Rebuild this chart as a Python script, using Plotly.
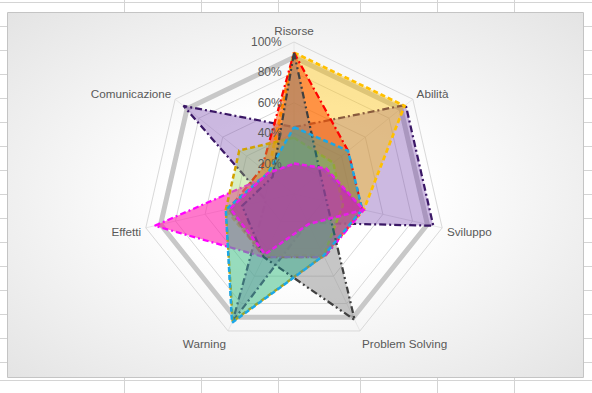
import base64
import plotly.graph_objects as go

# ---------------- data ----------------
categories = ["Risorse", "Abilità", "Sviluppo", "Problem Solving", "Warning", "Effetti", "Comunicazione"]
radial_tickvals = [0.2, 0.4, 0.6, 0.8, 1.0]
radial_ticktext = ["20%", "40%", "60%", "80%", "100%"]

ring = [0.90, 0.90, 0.90, 0.90, 0.90, 0.90, 0.90]
purple = [0.44, 0.94, 0.94, 0.21, 0.93, 0.19, 0.93]
gold = [0.93, 0.93, 0.47, 0.45, 0.45, 0.46, 0.22]
orange = [0.93, 0.455, 0.46, 0.46, 0.46, 0.44, 0.27]
pink = [0.20, 0.25, 0.47, 0.46, 0.46, 0.94, 0.20]
green = [0.37, 0.33, 0.33, 0.45, 0.93, 0.46, 0.46]
gray = [0.93, 0.22, 0.22, 0.92, 0.46, 0.35, 0.18]
teal = [0.44, 0.455, 0.46, 0.45, 0.94, 0.46, 0.22]
magenta = [0.20, 0.27, 0.47, 0.22, 0.44, 0.43, 0.22]

W, H = 592, 393


def px(x):
    return x / W


def py(y):
    return 1 - y / H


fig = go.Figure()


def add(vals, line_color, width, dash, fillcolor=None):
    fig.add_trace(go.Scatterpolar(
        r=vals + [vals[0]],
        theta=categories + [categories[0]],
        mode="lines",
        fill="toself" if fillcolor else None,
        fillcolor=fillcolor,
        line=dict(color=line_color, width=width, dash=dash),
        hoverinfo="skip",
        showlegend=False,
    ))


add(ring, "#C8C8C8", 5, "solid")
add(purple, "#3B1866", 2.25, "7px,3px,2px,3px", "rgba(120,70,175,0.38)")
add(gold, "#FFC000", 2.75, "5px,3px", "rgba(255,192,0,0.40)")
add(orange, "#FF0000", 2.25, "7px,3px,2px,3px", "rgba(255,80,0,0.55)")
add(pink, "#FF00FF", 2.25, "6px,3px,2px,3px", "rgba(255,30,170,0.60)")
add(green, "#D2A200", 2.5, "5px,3px", "rgba(146,208,80,0.35)")
add(gray, "#404040", 2.25, "7px,3px,2px,3px,2px,3px", "rgba(128,128,128,0.45)")
add(teal, "#1CA7E6", 2.5, "5px,3px", "rgba(0,175,180,0.30)")
add(magenta, "#E81EE8", 2.5, "5px,3px", "rgba(205,30,170,0.50)")

# chart-area background: soft radial gradient (Excel chart area)
svg = ('<svg xmlns="http://www.w3.org/2000/svg" width="576" height="365">'
       '<defs><radialGradient id="g" cx="50%" cy="50%" r="72%">'
       '<stop offset="0.30" stop-color="#ffffff"/>'
       '<stop offset="1" stop-color="#e3e3e3"/></radialGradient></defs>'
       '<rect width="100%" height="100%" fill="url(#g)"/></svg>')
uri = "data:image/svg+xml;base64," + base64.b64encode(svg.encode()).decode()

x0, y0, x1, y1 = 7.5, 12.5, 583.5, 377.5
images = [dict(source=uri, xref="paper", yref="paper", x=px(x0), y=py(y0),
               sizex=px(x1) - px(x0), sizey=py(y0) - py(y1),
               xanchor="left", yanchor="top", sizing="stretch", layer="below")]

shapes = []
gl = dict(color="#D4D4D4", width=1)
# spreadsheet cell grid visible around the chart area
for x in [124.5, 201.5, 278.5, 360.5, 437.5, 514.5]:
    shapes.append(dict(type="line", xref="paper", yref="paper", x0=px(x), x1=px(x), y0=py(0), y1=py(y0), line=gl, layer="below"))
    shapes.append(dict(type="line", xref="paper", yref="paper", x0=px(x), x1=px(x), y0=py(y1), y1=py(H), line=gl, layer="below"))
for y in [2.5, 380.5]:
    shapes.append(dict(type="line", xref="paper", yref="paper", x0=0, x1=1, y0=py(y), y1=py(y), line=gl, layer="below"))
for y in [26.5, 50.5, 74.5, 98.5, 122.5, 146.5, 170.5, 194.5, 218.5, 242.5, 266.5, 290.5, 314.5, 338.5, 362.5]:
    shapes.append(dict(type="line", xref="paper", yref="paper", x0=0, x1=px(x0), y0=py(y), y1=py(y), line=gl, layer="below"))
    shapes.append(dict(type="line", xref="paper", yref="paper", x0=px(x1), x1=1, y0=py(y), y1=py(y), line=gl, layer="below"))
shapes.append(dict(type="rect", xref="paper", yref="paper", x0=px(x0), x1=px(x1), y0=py(y1), y1=py(y0),
                   line=dict(color="#C4C4C4", width=1), fillcolor="rgba(0,0,0,0)", layer="above"))

pad = "\u00a0\u00a0\u00a0"
cx, cy, R = 294, 194, 152
fig.update_layout(
    width=W, height=H,
    margin=dict(l=0, r=0, t=0, b=0),
    paper_bgcolor="white",
    font=dict(family="Liberation Sans, Arial, sans-serif", size=12, color="#595959"),
    images=images,
    shapes=shapes,
    polar=dict(
        domain=dict(x=[px(cx - R), px(cx + R)], y=[py(cy + R), py(cy - R)]),
        bgcolor="rgba(0,0,0,0)",
        gridshape="linear",
        radialaxis=dict(range=[0, 1], tickvals=radial_tickvals,
                        ticktext=[t + pad for t in radial_ticktext],
                        angle=90, tickangle=90, side="counterclockwise", showline=False, ticks="",
                        gridcolor="#D9D9D9", gridwidth=1,
                        tickfont=dict(size=12, color="#595959"), layer="above traces"),
        angularaxis=dict(direction="clockwise", rotation=90, categoryorder="array",
                         categoryarray=categories, showline=True, linecolor="#D9D9D9",
                         gridcolor="#E6E6E6", ticks="outside", ticklen=2,
                         tickcolor="rgba(0,0,0,0)", layer="above traces",
                         tickfont=dict(size=11.7, color="#595959")),
    ),
)

fig.write_html("out.html", config={"displayModeBar": False},
               post_script="document.body.style.margin='0px';document.body.style.overflow='hidden';")
